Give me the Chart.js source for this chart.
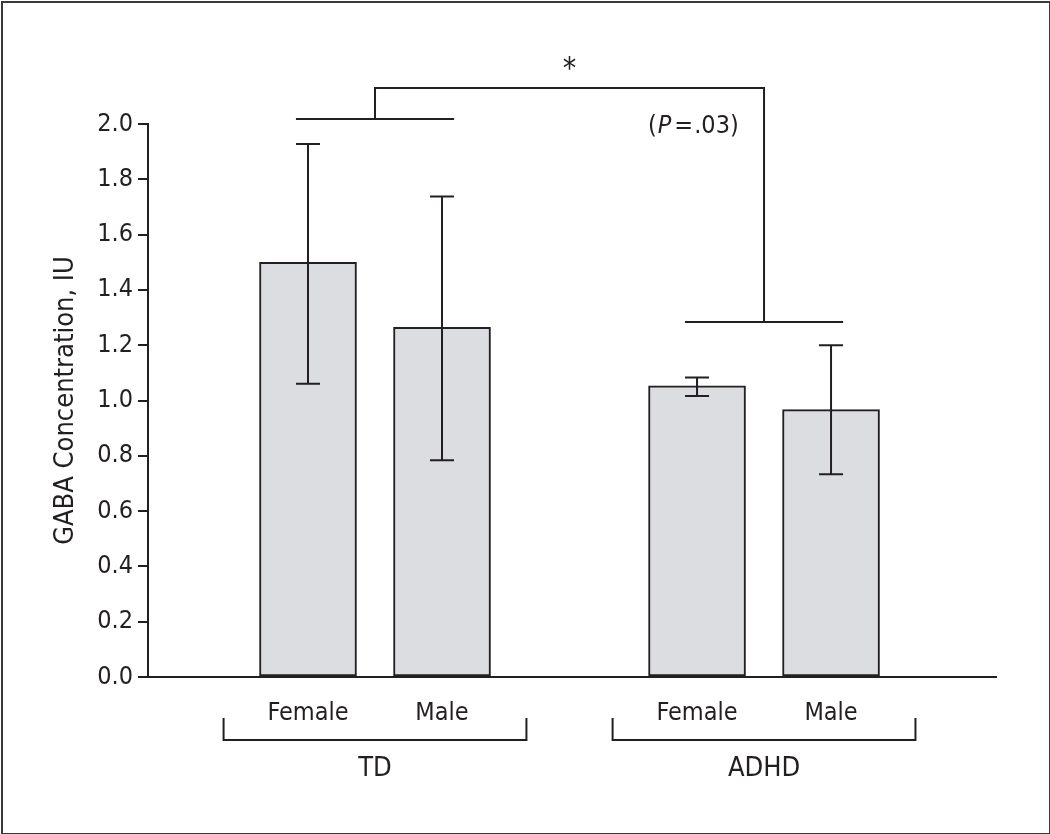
<!DOCTYPE html>
<html>
<head>
<meta charset="utf-8">
<script src="https://cdn.jsdelivr.net/npm/chart.js@4.4.1/dist/chart.umd.min.js"></script>
<style>
  html, body { margin: 0; padding: 0; background: #fff; }
  #wrap { position: relative; width: 1050px; height: 834px; }
  #frame { position: absolute; left: 1px; top: 1px; width: 1046px; height: 830px; border: 2px solid #3a3a3a; pointer-events: none; }
</style>
</head>
<body>
<div id="wrap">
  <canvas id="barChart" width="1050" height="834"></canvas>
  <div id="frame"></div>
</div>
<script>
// data
var groups = ["TD", "ADHD"];
var sexes = ["Female", "Male"];
var gabaMean = [1.50, 1.265, 1.053, 0.967];
var gabaUpper = [1.928, 1.738, 1.083, 1.200];
var gabaLower = [1.061, 0.784, 1.016, 0.733];
var yTicks = [0.0, 0.2, 0.4, 0.6, 0.8, 1.0, 1.2, 1.4, 1.6, 1.8, 2.0];
var pLabel = ".03";

var FONT = "'Liberation Sans Narrow', 'DejaVu Sans Condensed', sans-serif";
var INK = '#231f20';

// bar slots on the linear x axis: one unit between sexes, wider gap between groups
var GROUP_STEP = 2.903;
var xPos = [];
groups.forEach(function (g, gi) {
  sexes.forEach(function (s, si) { xPos.push(gi * GROUP_STEP + si); });
});
var points = gabaMean.map(function (v, i) { return { x: xPos[i], y: v }; });

var errorBars = {
  id: 'errorBars',
  afterDatasetsDraw: function (chart) {
    var ctx = chart.ctx, xs = chart.scales.x, ys = chart.scales.y;
    ctx.save();
    ctx.strokeStyle = INK;
    ctx.lineWidth = 2;
    gabaMean.forEach(function (v, i) {
      var px = xs.getPixelForValue(xPos[i]);
      var top = ys.getPixelForValue(gabaUpper[i]);
      var bot = ys.getPixelForValue(gabaLower[i]);
      ctx.beginPath();
      ctx.moveTo(px, top); ctx.lineTo(px, bot);
      ctx.moveTo(px - 12, top); ctx.lineTo(px + 12, top);
      ctx.moveTo(px - 12, bot); ctx.lineTo(px + 12, bot);
      ctx.stroke();
    });
    ctx.restore();
  }
};

var annotations = {
  id: 'annotations',
  afterDraw: function (chart) {
    var ctx = chart.ctx, xs = chart.scales.x, ys = chart.scales.y;
    var centers = groups.map(function (g, gi) {
      return xs.getPixelForValue(gi * GROUP_STEP + 0.5);
    });
    var unit = xs.getPixelForValue(1) - xs.getPixelForValue(0);
    ctx.save();
    ctx.strokeStyle = INK;
    ctx.fillStyle = INK;
    ctx.lineWidth = 2;

    // group brackets under the axis
    var bTop = 718, bBot = 740;
    centers.forEach(function (c, gi) {
      var half = 1.13 * unit;
      ctx.beginPath();
      ctx.moveTo(c - half, bTop); ctx.lineTo(c - half, bBot);
      ctx.lineTo(c + half, bBot); ctx.lineTo(c + half, bTop);
      ctx.stroke();
      ctx.font = '27px ' + FONT;
      ctx.textAlign = 'center';
      ctx.textBaseline = 'middle';
      ctx.fillText(groups[gi], c, 769);
    });

    // significance bracket
    var lineTD = ys.getPixelForValue(2.018);
    var lineADHD = ys.getPixelForValue(1.284);
    var topY = ys.getPixelForValue(2.13);
    var halfSig = 0.59 * unit;
    ctx.beginPath();
    ctx.moveTo(centers[0] - halfSig, lineTD); ctx.lineTo(centers[0] + halfSig, lineTD);
    ctx.moveTo(centers[1] - halfSig, lineADHD); ctx.lineTo(centers[1] + halfSig, lineADHD);
    ctx.moveTo(centers[0], lineTD); ctx.lineTo(centers[0], topY);
    ctx.lineTo(centers[1], topY); ctx.lineTo(centers[1], lineADHD);
    ctx.stroke();

    ctx.font = '30px ' + FONT;
    ctx.textAlign = 'center';
    ctx.textBaseline = 'middle';
    ctx.fillText('*', (centers[0] + centers[1]) / 2, 70);

    // (P = .03)
    ctx.textBaseline = 'middle';
    ctx.textAlign = 'left';
    var x = 648, y = 126;
    ctx.font = '25px ' + FONT;
    ctx.fillText('(', x, y); x += ctx.measureText('(').width + 1;
    ctx.font = 'italic 25px ' + FONT;
    ctx.fillText('P', x, y); x += ctx.measureText('P').width + 3;
    ctx.font = '25px ' + FONT;
    ctx.fillText('=', x, y); x += ctx.measureText('=').width + 1;
    ctx.fillText(pLabel + ')', x, y);
    ctx.restore();
  }
};

var ctxB = document.getElementById('barChart').getContext('2d');
var myBarChart = new Chart(ctxB, {
  type: 'bar',
  data: {
    datasets: [{
      label: 'GABA',
      data: points,
      backgroundColor: '#dcdde0',
      borderColor: INK,
      borderWidth: 2,
      borderSkipped: false,
      barThickness: 97
    }]
  },
  options: {
    responsive: false,
    animation: false,
    layout: { padding: { top: 124, right: 54, bottom: 0, left: 0 } },
    plugins: { legend: { display: false }, tooltip: { enabled: false } },
    scales: {
      x: {
        type: 'linear',
        offset: false,
        min: -1.194,
        max: 5.134,
        afterBuildTicks: function (scale) {
          scale.ticks = xPos.map(function (v) { return { value: v }; });
        },
        afterFit: function (scale) { scale.height = 157; },
        grid: { display: false },
        border: { display: true, color: INK, width: 2 },
        ticks: {
          autoSkip: false,
          maxRotation: 0,
          padding: 13,
          color: INK,
          font: { family: FONT, size: 25 },
          callback: function (v, i) { return sexes[i % sexes.length]; }
        }
      },
      y: {
        min: 0,
        max: 2.0,
        afterBuildTicks: function (scale) {
          scale.ticks = yTicks.map(function (v) { return { value: v }; });
        },
        afterFit: function (scale) { scale.width = 148; },
        grid: { display: true, drawOnChartArea: false, drawTicks: true, tickLength: 10, color: INK, lineWidth: 2 },
        border: { display: true, color: INK, width: 2 },
        ticks: {
          padding: 5,
          color: INK,
          font: { family: FONT, size: 25 },
          callback: function (v) { return v.toFixed(1); }
        },
        title: {
          display: true,
          text: 'GABA Concentration, IU',
          color: INK,
          font: { family: FONT, size: 27 },
          padding: { top: 50, bottom: 0 }
        }
      }
    }
  },
  plugins: [errorBars, annotations]
});
</script>
</body>
</html>
